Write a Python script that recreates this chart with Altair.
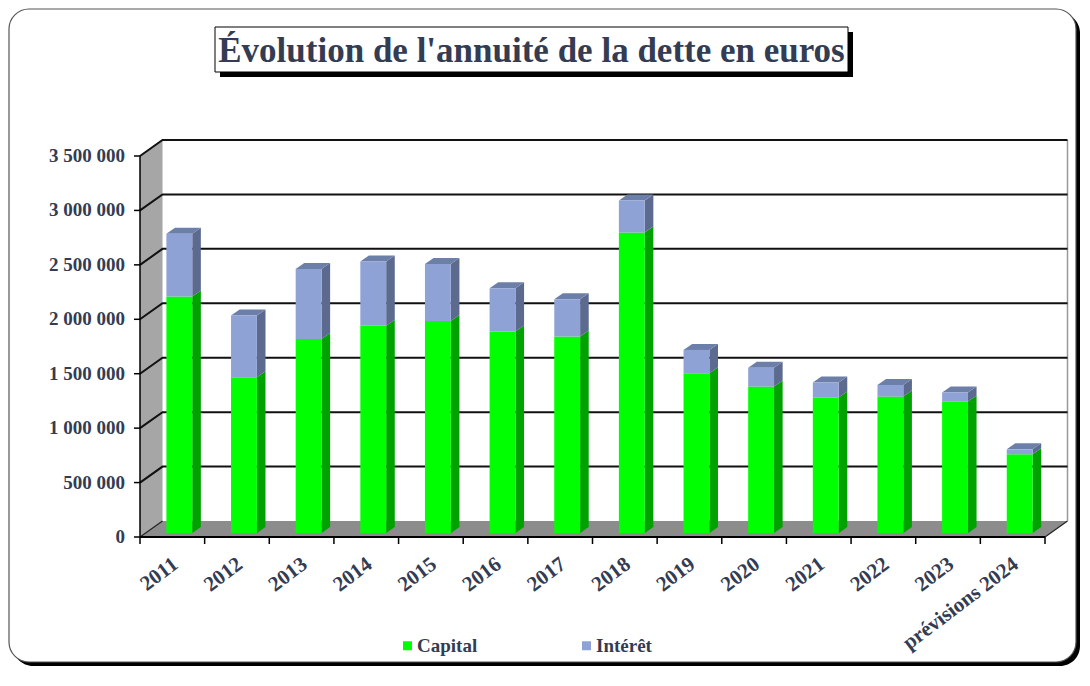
import altair as alt
import pandas as pd

# ---------------- data ----------------
YEARS = ["2011", "2012", "2013", "2014", "2015", "2016", "2017", "2018",
         "2019", "2020", "2021", "2022", "2023", "prévisions 2024"]
CAPITAL = [2172000, 1431000, 1783000, 1903000, 1948000, 1850000, 1804000,
           2760000, 1468000, 1345000, 1244000, 1253000, 1207000, 723000]
INTERET = [576000, 566000, 643000, 591000, 522000, 399000, 344000,
           294000, 214000, 174000, 138000, 107000, 83000, 46000]
SERIES = ["Capital", "Intérêt"]
Y_TICKS = [0, 500000, 1000000, 1500000, 2000000, 2500000, 3000000, 3500000]
Y_LABELS = ["0", "500 000", "1 000 000", "1 500 000", "2 000 000",
            "2 500 000", "3 000 000", "3 500 000"]
TITLE = "Évolution de l'annuité de la dette en euros"

# ---------------- geometry / style ----------------
W, H = 905, 381
PAD = {"left": 132, "top": 148, "right": 37, "bottom": 133}
N = len(YEARS)
YMAX = Y_TICKS[-1]
UX = W / N            # px per x unit
UY = H / YMAX         # px per y unit
DX = 22.5 / UX        # depth of the 3D box
DY = 16 / UY
SX = 7 / UX           # bar front-face offset into depth
SY = 4 / UY
BAR_W = 0.40
BDX = 8.6 / UX        # bar depth
BDY = 6 / UY

FONT = "Liberation Serif"
TXT = "#333c52"
GREEN, GREEN_SIDE = "#00ff00", "#00a200"
BLUE, BLUE_SIDE, BLUE_TOP = "#8fa2d6", "#5b6a8e", "#6c7fa9"

# ---------------- tables ----------------
front, side, top = [], [], []
for i, yr in enumerate(YEARS):
    left = i + 0.5 - BAR_W / 2 + SX
    right = left + BAR_W
    segs = [("Capital", 0, CAPITAL[i], GREEN_SIDE),
            ("Intérêt", CAPITAL[i], CAPITAL[i] + INTERET[i], BLUE_SIDE)]
    for s, lo, hi, sc in segs:
        front.append({"year": yr, "series": s, "x1": left, "x2": right,
                      "y1": SY + lo, "y2": SY + hi})
        key = f"{yr}-{s}"
        side.append({"key": key, "x": right, "lo": SY + lo, "hi": SY + hi, "c": sc})
        side.append({"key": key, "x": right + BDX, "lo": SY + lo + BDY,
                     "hi": SY + hi + BDY, "c": sc})
    tot = CAPITAL[i] + INTERET[i]
    top.append({"key": yr, "y": SY + tot, "xl": left, "xr": right})
    top.append({"key": yr, "y": SY + tot + BDY, "xl": left + BDX, "xr": right + BDX})

front = pd.DataFrame(front)
side = pd.DataFrame(side)
top = pd.DataFrame(top)
xlabels = pd.DataFrame({"year": YEARS, "c": [i + 0.5 for i in range(N)]})
ylabels = pd.DataFrame({"v": Y_TICKS, "t": Y_LABELS})

grid = []
for v in Y_TICKS[1:]:
    grid += [{"v": v, "x": 0, "y": v}, {"v": v, "x": DX, "y": v + DY},
             {"v": v, "x": N + DX, "y": v + DY}]
grid = pd.DataFrame(grid)

edges = pd.DataFrame([
    {"e": "l", "x": 0, "y": 0}, {"e": "l", "x": DX, "y": DY},
    {"e": "r", "x": N, "y": 0}, {"e": "r", "x": N + DX, "y": DY},
])
wall = pd.DataFrame([{"x": 0, "lo": 0, "hi": YMAX}, {"x": DX, "lo": DY, "hi": YMAX + DY}])
floor = pd.DataFrame([{"y": 0, "xl": 0, "xr": N}, {"y": DY, "xl": DX, "xr": N + DX}])
backedge = pd.DataFrame([{"x": N + DX, "lo": DY, "hi": YMAX + DY}])
yline = pd.DataFrame([{"x": 0, "lo": 0, "hi": YMAX}])
xline = pd.DataFrame([{"y": 0, "xl": 0, "xr": N}])
ticks = pd.DataFrame({"b": list(range(N + 1))})
dummy = pd.DataFrame({"d": [0]})

xsc = alt.Scale(domain=[0, N], nice=False, zero=False)
ysc = alt.Scale(domain=[0, YMAX], nice=False, zero=False)


def X(f):
    return alt.X(f, type="quantitative", scale=xsc, axis=None)


def Y(f):
    return alt.Y(f, type="quantitative", scale=ysc, axis=None)


# ---------------- decoration ----------------
border_shadow = alt.Chart(dummy).mark_rect(fill="#000", cornerRadius=20).encode(
    x=alt.value(-127), x2=alt.value(940), y=alt.value(-143), y2=alt.value(510))
border = alt.Chart(dummy).mark_rect(fill="#fff", stroke="#555", strokeWidth=1.2,
                                    cornerRadius=20).encode(
    x=alt.value(-131), x2=alt.value(936), y=alt.value(-147), y2=alt.value(506))
title_shadow = alt.Chart(dummy).mark_rect(fill="#000").encode(
    x=alt.value(80), x2=alt.value(713), y=alt.value(-124), y2=alt.value(-79))
title_box = alt.Chart(dummy).mark_rect(fill="#fff", stroke="#000", strokeWidth=1).encode(
    x=alt.value(75), x2=alt.value(708), y=alt.value(-129), y2=alt.value(-84))
title_text = alt.Chart(dummy).mark_text(
    text=TITLE, font=FONT, fontSize=35, fontWeight="bold", color=TXT,
    align="center", baseline="middle").encode(x=alt.value(391.5), y=alt.value(-105))

# ---------------- 3D box ----------------
wall_l = alt.Chart(wall).mark_area(orient="vertical", color="#a6a6a6").encode(
    x=X("x"), y=Y("lo"), y2="hi")
floor_l = alt.Chart(floor).mark_area(orient="horizontal", color="#8c8c8c").encode(
    y=Y("y"), x=X("xl"), x2="xr")
edges_l = alt.Chart(edges).mark_line(color="#222", strokeWidth=1.2).encode(
    x=X("x"), y=Y("y"), detail="e:N")
back_l = alt.Chart(backedge).mark_rule(color="#999", strokeWidth=1.5).encode(
    x=X("x"), y=Y("lo"), y2="hi")
grid_l = alt.Chart(grid).mark_line(color="#111", strokeWidth=2).encode(
    x=X("x"), y=Y("y"), detail="v:N")

# ---------------- axes (lines, ticks, labels) ----------------
yline_l = alt.Chart(yline).mark_rule(color="#000", strokeWidth=1.5).encode(
    x=X("x"), y=Y("lo"), y2="hi")
xline_l = alt.Chart(xline).mark_rule(color="#000", strokeWidth=2).encode(
    y=Y("y"), x=X("xl"), x2="xr")
xticks_l = alt.Chart(ticks).mark_rule(color="#000", strokeWidth=1.5).encode(
    x=X("b"), y=alt.value(H), y2=alt.value(H + 7))
yticks_l = alt.Chart(ylabels).mark_rule(color="#000", strokeWidth=1.5).encode(
    y=Y("v"), x=alt.value(-6), x2=alt.value(0))
ylab_l = alt.Chart(ylabels).mark_text(
    font=FONT, fontSize=19, fontWeight="bold", color=TXT,
    align="right", baseline="middle").encode(
    y=Y("v"), x=alt.value(-15), text="t:N")
xlab_l = alt.Chart(xlabels).mark_text(
    font=FONT, fontSize=21, fontWeight="bold", color=TXT, angle=323,
    align="right", baseline="top", dx=-4).encode(
    x=X("c"), y=alt.value(H + 14), text="year:N")

# ---------------- bars ----------------
side_l = alt.Chart(side).mark_area(orient="vertical").encode(
    x=X("x"), y=Y("lo"), y2="hi", detail="key:N",
    color=alt.Color("c:N", scale=None))
top_l = alt.Chart(top).mark_area(orient="horizontal", color=BLUE_TOP).encode(
    y=Y("y"), x=X("xl"), x2="xr", detail="key:N")
front_l = alt.Chart(front).mark_rect().encode(
    x=X("x1"), x2="x2:Q", y=Y("y1"), y2="y2:Q",
    color=alt.Color("series:N",
                    scale=alt.Scale(domain=SERIES, range=[GREEN, BLUE]),
                    legend=alt.Legend(orient="none", legendX=258, legendY=480,
                                      direction="horizontal", title=None,
                                      symbolType="square", symbolSize=81,
                                      symbolStrokeWidth=0, labelFont=FONT,
                                      labelFontSize=19, labelFontWeight="bold",
                                      labelColor=TXT, labelOffset=0,
                                      columnPadding=99, zindex=1)))

chart = alt.layer(
    border_shadow, border, title_shadow, title_box, title_text,
    wall_l, floor_l, edges_l, back_l, grid_l,
    yline_l, xline_l, xticks_l, yticks_l, ylab_l, xlab_l,
    side_l, top_l, front_l,
).properties(
    width=W, height=H, padding=PAD,
    autosize=alt.AutoSizeParams(type="none"), background="#ffffff",
).configure_view(strokeWidth=0)

chart.save("out.html", embed_options={"renderer": "svg", "actions": False})
